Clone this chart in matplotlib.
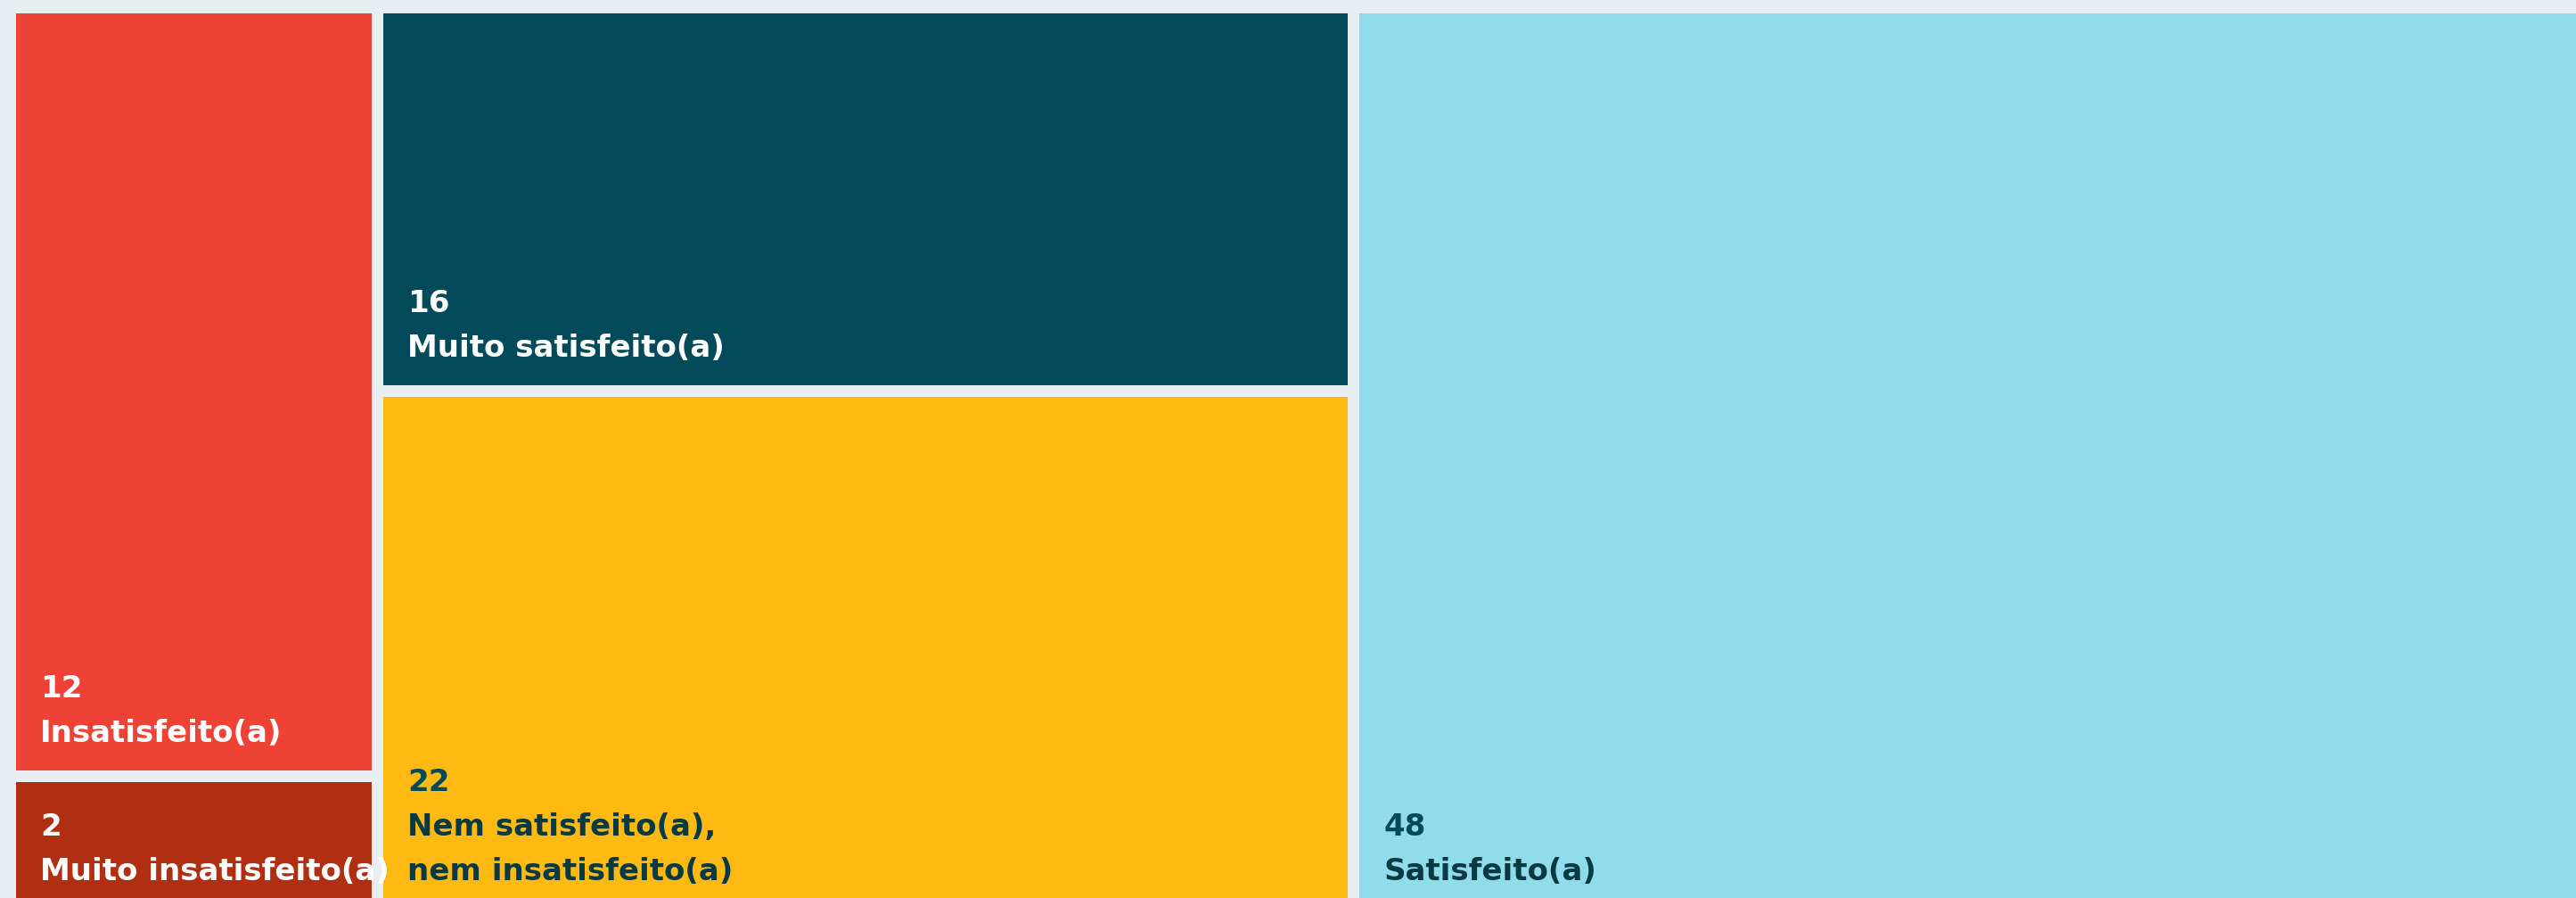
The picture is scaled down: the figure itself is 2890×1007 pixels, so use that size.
import matplotlib
matplotlib.use("Agg")
import matplotlib.pyplot as plt
from matplotlib.patches import Rectangle

# treemap data
labels = ["Insatisfeito(a)", "Muito insatisfeito(a)", "Muito satisfeito(a)",
          "Nem satisfeito(a),\nnem insatisfeito(a)", "Satisfeito(a)"]
values = [12, 2, 16, 22, 48]
colors = ["#EF4237", "#B02E12", "#024A59", "#FEB912", "#90DCEA"]
num_colors = ["white", "white", "white", "#004A5A", "#004A5A"]
txt_colors = ["white", "white", "white", "#083A44", "#083A44"]
columns = [[0, 1], [2, 3], [4]]

bg = "#E9EEF2"
x0, y0, W, H = 18, 15, 2875, 1004
gap = 13

fig = plt.figure(figsize=(28.9, 10.07), dpi=100)
fig.patch.set_facecolor(bg)
ax = fig.add_axes([0, 0, 1, 1])
ax.set_xlim(0, 2890)
ax.set_ylim(1007, 0)
ax.axis("off")

total = sum(values)
inner_w = W - gap * (len(columns) - 1)
x = x0
for col in columns:
    csum = sum(values[i] for i in col)
    cw = inner_w * csum / total
    inner_h = H - gap * (len(col) - 1)
    y = y0
    for i in col:
        h = inner_h * values[i] / csum
        ax.add_patch(Rectangle((x, y), cw, h, facecolor=colors[i], edgecolor="none"))
        lines = labels[i].split("\n")
        bottom = y + h
        for k, line in enumerate(reversed(lines)):
            ax.text(x + 27, bottom - 32 - 50 * k, line, color=txt_colors[i],
                    fontsize=24.5, fontweight="bold", va="baseline", ha="left")
        ax.text(x + 27, bottom - 32 - 50 * len(lines), str(values[i]),
                color=num_colors[i], fontsize=24.5, fontweight="bold",
                va="baseline", ha="left")
        y += h + gap
    x += cw + gap

fig.savefig("out.png", dpi=100, facecolor=bg)
